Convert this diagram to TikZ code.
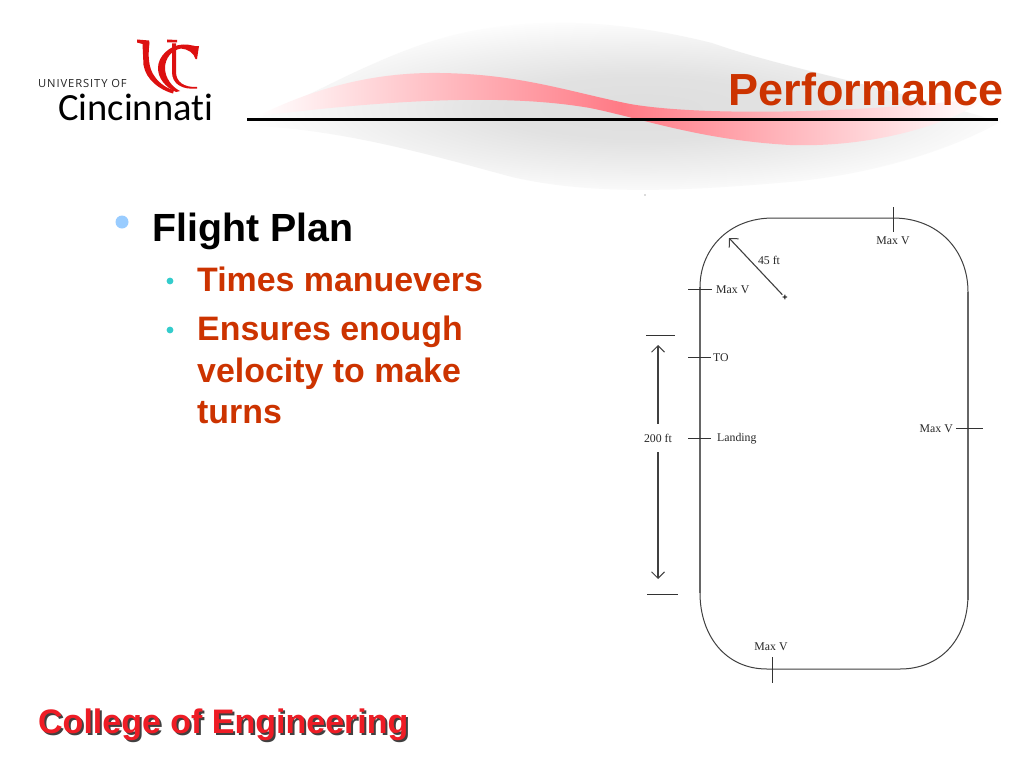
\documentclass[tikz,border=0pt]{standalone}
\usepackage{fontspec}
\setmainfont{Liberation Sans}
\newfontfamily\serifdiag{Liberation Serif}
\newfontfamily\logofont[Ligatures=CommonOff]{Carlito}
\newfontfamily\logosmall[LetterSpace=8]{Open Sans}
\usetikzlibrary{arrows.meta}
\definecolor{titlered}{HTML}{CC3300}
\definecolor{logored}{HTML}{DD1010}
\definecolor{bulA}{HTML}{99CCFF}
\definecolor{bulB}{HTML}{33CCCC}
\definecolor{cered}{HTML}{EE1C25}
\definecolor{swred}{HTML}{FF7A85}
\definecolor{trk}{HTML}{666666}
\pgfdeclareradialshading{grayglow}{\pgfpoint{0bp}{0bp}}{%
  rgb(0bp)=(0.87,0.87,0.87);rgb(9bp)=(0.885,0.885,0.885);rgb(17bp)=(0.94,0.94,0.94);rgb(25bp)=(1,1,1);rgb(50bp)=(1,1,1)}
\tikzset{
  lbl/.style={font=\serifdiag\fontsize{11.8}{13}\selectfont,inner sep=0pt,text=black!85},
  trackline/.style={draw=black!75,line width=1pt},
  trackside/.style={draw=trk,line width=1.7pt},
  tickline/.style={draw=black!80,line width=1pt},
  dimarrow/.style={draw=black!75,line width=1.1pt,-{Straight Barb[length=6.5pt,width=13pt,line width=1pt]}},
  head/.style={font=\bfseries\fontsize{45}{50}\selectfont,text=titlered,inner sep=0pt},
  lvlone/.style={font=\bfseries\fontsize{39.3}{44}\selectfont,text=black,inner sep=0pt,anchor=base west},
  lvltwo/.style={font=\bfseries\fontsize{33.9}{40}\selectfont,text=titlered,inner sep=0pt,anchor=base west},
  foot/.style={font=\bfseries\fontsize{34}{40}\selectfont,inner sep=0pt,anchor=base west},
}
\begin{document}
\begin{tikzpicture}[x=1pt,y=-1pt]
\useasboundingbox (0,0) rectangle (1024,768);
\fill[white] (0,0) rectangle (1024,768);
% grey swoosh
\begin{scope}
\clip (238,125) .. controls (300,105) and (380,50) .. (467,32)
  .. controls (540,17) and (620,20) .. (712,43)
  .. controls (780,67) and (880,85) .. (1000,122)
  .. controls (950,150) and (880,172) .. (800,181)
  .. controls (680,192) and (590,195) .. (512,177)
  .. controls (430,155) and (340,128) .. (238,125) -- cycle;
\shade[shading=grayglow] (640,108) ellipse (400 and 92);
\end{scope}
% red swoosh
\shade[left color=white,right color=white,middle color=swred]
  (258,116) .. controls (310,90) and (370,72) .. (440,73)
  .. controls (520,74) and (570,92) .. (630,104)
  .. controls (700,116) and (850,114) .. (985,98)
  .. controls (960,120) and (880,148) .. (790,145)
  .. controls (700,140) and (640,118) .. (590,108)
  .. controls (520,96) and (420,96) .. (258,116) -- cycle;
% rule
\draw[black,line width=3pt] (247,119) -- (998,119);
% logo
\node[font=\logosmall\fontsize{11.2}{12}\selectfont,inner sep=0pt,anchor=base west,text=black!85] (univ) at (38,87.5) {UNIVERSITY OF};
\node[font=\logofont\fontsize{38.5}{39}\selectfont,inner sep=0pt,anchor=base west,text=black] (cinc) at (58,120) {Cincinnati};
\fill[logored] (137,39.5) -- (149,40.5) -- (149.5,43) .. controls (148,55) and (148,68) .. (155,77) .. controls (160,84) and (168,89) .. (174,90) -- (173,93.5) .. controls (160,90) and (146,80) .. (143.5,65) -- (142.5,44) -- (137,42.5) -- cycle;
\fill[logored] (167,39.5) -- (177,40) -- (177,42.5) -- (167,42.5) -- cycle;
\fill[logored] (172,43.5) -- (176,43.5) -- (176,72) .. controls (176,82) and (184,87.5) .. (197,87) -- (197,88.5) .. controls (182,90) and (172,84) .. (172,72) -- cycle;
\fill[logored] (199,46) -- (197,59) -- (195.5,59) .. controls (194,53) and (188,49) .. (181,48.5) .. controls (172,50) and (165,58) .. (165,68) .. controls (165,78) and (172,87) .. (180,91) -- (176,92) .. controls (165,87) and (158,78) .. (158,68) .. controls (158,56) and (170,45) .. (183,44.5) .. controls (190,44) and (195,47) .. (199,46) -- cycle;
% title
\node[head,anchor=base east] (title) at (1004,105) {Performance};
% bullets
\fill[bulA] (122,222) circle (6.5);
\node[lvlone] (flight) at (152,241) {Flight Plan};
\fill[bulB] (170,281) circle (3.4);
\node[lvltwo] (times) at (197,291) {Times manuevers};
\fill[bulB] (170,330) circle (3.4);
\node[lvltwo] (ens1) at (197,340) {Ensures enough};
\node[lvltwo] (ens2) at (197,382) {velocity to make};
\node[lvltwo] (ens3) at (197,423) {turns};
% footer
\node[foot,text=black!75] (foots) at (40,735) {College of Engineering};
\node[foot,text=cered] (foot) at (38,733) {College of Engineering};
% track
\draw[trackline] (773,218) -- (893,218) .. controls (938,218) and (968,250) .. (968,292)
  -- (968,594) .. controls (968,640) and (940,669) .. (900,669)
  -- (767,669) .. controls (725,669) and (700,635) .. (700,593)
  -- (700,287) .. controls (700,250) and (728,218) .. (773,218) -- cycle;
\draw[trackside] (700,287) -- (700,593);
\draw[trackside] (968,292) -- (968,600);
% coordinates
\coordinate (t1a) at (893,207); \coordinate (t1b) at (893,232);
\coordinate (t2a) at (688,289); \coordinate (t2b) at (712,289);
\coordinate (t3a) at (688,357); \coordinate (t3b) at (711,357);
\coordinate (t4a) at (688,438); \coordinate (t4b) at (711,438);
\coordinate (t5a) at (956,428); \coordinate (t5b) at (983,428);
\coordinate (t6a) at (772,657); \coordinate (t6b) at (772,683);
\coordinate (bar1a) at (646,335); \coordinate (bar1b) at (675,335);
\coordinate (bar2a) at (647,594); \coordinate (bar2b) at (678,594);
\coordinate (arrTop) at (658,345); \coordinate (arrBot) at (658,579);
\coordinate (radTip) at (729,238);
\draw[tickline] (t1a) -- (t1b);
\draw[tickline] (t2a) -- (t2b);
\draw[tickline] (t3a) -- (t3b);
\draw[tickline] (t4a) -- (t4b);
\draw[tickline] (t5a) -- (t5b);
\draw[tickline] (t6a) -- (t6b);
\draw[tickline] (bar1a) -- (bar1b);
\draw[tickline] (bar2a) -- (bar2b);
% labels
\node[lbl] (mv1) at (893,241) {Max V};
\node[lbl,anchor=west] (mv2) at (716,289.5) {Max V};
\node[lbl,anchor=west] (to) at (713,357.5) {TO};
\node[lbl,anchor=west] (land) at (717,438.5) {Landing};
\node[lbl,anchor=east] (mv3) at (953,428.5) {Max V};
\node[lbl] (mv4) at (771,646.5) {Max V};
\node[lbl] (dist) at (658,438) {200 ft};
\node[lbl] (rad) at (769,260.5) {45 ft};
\node[inner sep=0pt,font=\bfseries\fontsize{9}{9}\selectfont] (cen) at (785,297.5) {+};
% dimensions
\draw[dimarrow] (dist.north) ++(0,-10) -- (arrTop);
\draw[dimarrow] (dist.south) ++(0,10) -- (arrBot);
\draw[dimarrow] (cen) -- (radTip);
\fill[black!60] (645,195) circle (.7);
\end{tikzpicture}
\end{document}
